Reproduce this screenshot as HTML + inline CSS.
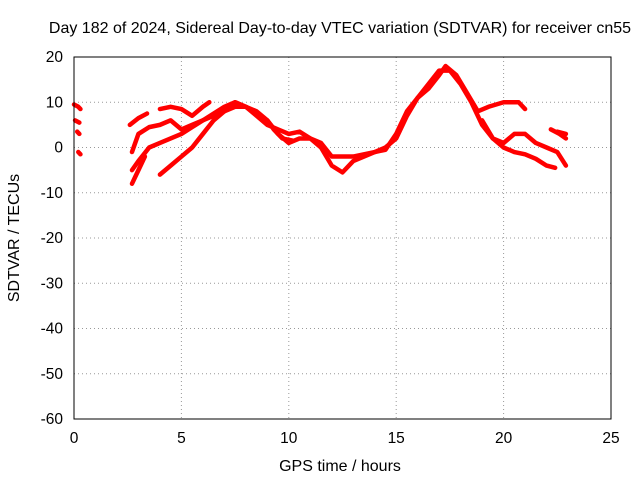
<!DOCTYPE html>
<html><head><meta charset="utf-8"><style>
body{margin:0;background:#fff}
svg{display:block;font-family:"Liberation Sans",sans-serif}
</style></head><body>
<svg id="chart" width="640" height="480">
<text x="340" y="33" text-anchor="middle" font-size="16">Day 182 of 2024, Sidereal Day-to-day VTEC variation (SDTVAR) for receiver cn55</text>
<text x="340" y="471" text-anchor="middle" font-size="16">GPS time / hours</text>
<text transform="translate(19,238) rotate(-90)" text-anchor="middle" font-size="16">SDTVAR / TECUs</text>
<g id="grid"></g><g id="series"></g>
<rect x="74" y="57" width="537" height="362" fill="none" stroke="#000"/>
</svg>
<script>
const xTicks=[0,5,10,15,20,25];
const yTicks=[20,10,0,-10,-20,-30,-40,-50,-60];
const track1=[[2.6,5],[3.0,6.5],[3.4,7.5]];
const track2=[[4.0,8.5],[4.5,9],[5,8.5],[5.5,7],[6,9],[6.3,10]];
const track3=[[2.7,-1],[3,3],[3.5,4.5],[4,5],[4.5,6],[5,4],[5.5,5],[6,6],[7,8],[7.5,10],[8,9],[8.5,7],[9,5],[9.5,4],[10,3],[10.5,3.5],[11,2],[11.5,1],[12,-2],[12.5,-2],[13,-2],[14,-1],[14.5,0],[15,2],[15.5,7],[16,11],[16.5,13],[17,16],[17.3,18],[17.8,16],[18.3,12],[18.8,8],[19.3,9],[20,10],[20.7,10],[21,8.5]];
const track4=[[2.7,-5],[3,-3],[3.5,0],[4,1],[4.5,2],[5,3],[5.5,4.5],[6,6],[7,9],[7.5,10],[8,9],[9,6],[9.5,3],[10,1],[10.5,2],[11,2],[11.5,0],[12,-4],[12.5,-5.5],[13,-3],[14,-1],[14.5,-0.5],[15,3],[15.5,8],[16,11],[17,17],[17.5,17],[18,14],[18.5,10],[19,5],[19.5,2],[20,1],[20.5,3],[21,3],[21.5,1],[22,0],[22.5,-1],[22.9,-4]];
const track5=[[2.7,-8],[3,-5],[3.3,-2]];
const track6=[[4,-6],[4.5,-4],[5,-2],[5.5,0],[6,3],[6.5,6],[7,8],[7.5,9],[8,9],[8.5,8],[9,6],[9.3,4],[9.7,2],[10.2,1.5]];
const track7=[[19,6],[19.5,2],[20,0],[20.5,-1],[21,-1.5],[21.5,-2.5],[22,-4],[22.4,-4.5]];
const track8=[[22.2,4],[22.6,3],[22.9,2]];
const track9=[[22.5,3.5],[22.9,3]];
const track10=[[0,9.5],[0.2,9],[0.3,8.5]];
const track11=[[0.05,6],[0.25,5.5]];
const track12=[[0.15,3.5],[0.25,3]];
const track13=[[0.2,-1],[0.3,-1.5]];
const tracks=[track1,track2,track3,track4,track5,track6,track7,track8,track9,track10,track11,track12,track13];
const X=v=>74+v*537/25, Y=v=>57+(20-v)*362/80;
const NS='http://www.w3.org/2000/svg';
const g=document.getElementById('grid'), s=document.getElementById('series');
function mk(tag,attrs,parent){const e=document.createElementNS(NS,tag);for(const k in attrs)e.setAttribute(k,attrs[k]);parent.appendChild(e);return e;}
xTicks.forEach(t=>{
 if(t>0&&t<25){const l=mk('line',{x1:X(t),x2:X(t),y1:57,y2:419,stroke:'#999','stroke-dasharray':'1,3'},g);
 
 }
 const tx=mk('text',{x:X(t),y:443,'text-anchor':'middle','font-size':15.5},g);tx.textContent=t;
 
 
});
yTicks.forEach(t=>{
 if(t<20&&t>-60){const l=mk('line',{x1:74,x2:611,y1:Y(t),y2:Y(t),stroke:'#999','stroke-dasharray':'1,3'},g);
 
 }
 const tx=mk('text',{x:63,y:Y(t)+5,'text-anchor':'end','font-size':15.5},g);tx.textContent=t;
 
 
});
tracks.forEach(tr=>{
 const p=mk('polyline',{points:tr.map(d=>X(d[0])+','+Y(d[1])).join(' '),fill:'none',stroke:'#f00','stroke-width':4.5,'stroke-linejoin':'round','stroke-linecap':'round'},s);
 
 
});
</script>
</body></html>
